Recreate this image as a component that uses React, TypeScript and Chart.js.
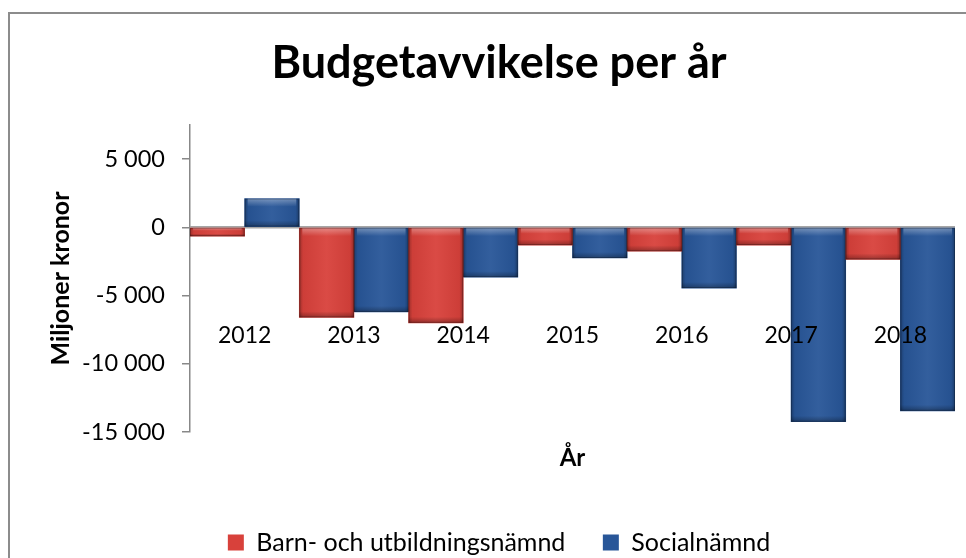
import React, { useEffect, useRef } from 'react';
import { Chart, registerables } from 'chart.js';
Chart.register(...registerables);

const years = ['2012', '2013', '2014', '2015', '2016', '2017', '2018'];
const barnValues = [-650, -6600, -7000, -1300, -1750, -1300, -2350];
const socialValues = [2100, -6200, -3650, -2250, -4450, -14250, -13450];
const yTickValues = [-15000, -10000, -5000, 0, 5000];
const seriesNames = ['Barn- och utbildningsnämnd', 'Socialnämnd'];
const titleText = 'Budgetavvikelse per år';
const yTitle = 'Miljoner kronor';
const xTitle = 'År';

const FONT = 'Lato, "Open Sans", sans-serif';
const RED = '#d8413b';
const BLUE = '#285698';

const fmt = (v: number) => {
  const s = String(Math.abs(v)).replace(/\B(?=(\d{3})+(?!\d))/g, ' ');
  return (v < 0 ? '-' : '') + s;
};

const decor = {
  id: 'decor',
  beforeDraw(chart: any) {
    const ctx = chart.ctx;
    ctx.save();
    ctx.fillStyle = '#ffffff';
    ctx.fillRect(0, 0, chart.width, chart.height);
    ctx.strokeStyle = '#8c8c8c';
    ctx.lineWidth = 2;
    ctx.strokeRect(9, 13, chart.width + 100, chart.height + 100);
    ctx.restore();
  },
  beforeDatasetsDraw(chart: any) {
    const ctx = chart.ctx;
    const ys = chart.scales.y;
    const area = chart.chartArea;
    const y0 = ys.getPixelForValue(0);
    ctx.save();
    ctx.strokeStyle = '#a6a6a6';
    ctx.lineWidth = 2.5;
    ctx.beginPath();
    ctx.moveTo(area.left, y0);
    ctx.lineTo(area.right, y0);
    ctx.stroke();
    ctx.restore();
  },
  afterDatasetsDraw(chart: any) {
    const ctx = chart.ctx;
    ctx.save();
    chart.data.datasets.forEach((_ds: any, di: number) => {
      const meta = chart.getDatasetMeta(di);
      meta.data.forEach((el: any) => {
        const { x, y, base, width } = el.getProps(['x', 'y', 'base', 'width'], true);
        const l = x - width / 2;
        const r = x + width / 2;
        const t = Math.min(y, base);
        const b = Math.max(y, base);
        const g = ctx.createLinearGradient(l, 0, r, 0);
        g.addColorStop(0, 'rgba(0,0,0,0.28)');
        g.addColorStop(0.07, 'rgba(0,0,0,0.05)');
        g.addColorStop(0.5, 'rgba(255,255,255,0.05)');
        g.addColorStop(0.93, 'rgba(0,0,0,0.05)');
        g.addColorStop(1, 'rgba(0,0,0,0.30)');
        ctx.fillStyle = g;
        ctx.fillRect(l, t, r - l, b - t);
        const hh = Math.min(8, (b - t) / 3);
        const g2 = ctx.createLinearGradient(0, t, 0, t + hh);
        g2.addColorStop(0, 'rgba(255,255,255,0.35)');
        g2.addColorStop(1, 'rgba(255,255,255,0)');
        ctx.fillStyle = g2;
        ctx.fillRect(l + 3, t, r - l - 6, hh);
        const bh = Math.min(6, (b - t) / 3);
        const g3 = ctx.createLinearGradient(0, b - bh, 0, b);
        g3.addColorStop(0, 'rgba(0,0,0,0)');
        g3.addColorStop(1, 'rgba(0,0,0,0.3)');
        ctx.fillStyle = g3;
        ctx.fillRect(l, b - bh, r - l, bh);
        ctx.strokeStyle = 'rgba(0,0,0,0.25)';
        ctx.lineWidth = 1;
        ctx.strokeRect(l + 0.5, t + 0.5, r - l - 1, b - t - 1);
      });
    });
    // category labels drawn through the x scale
    const xs = chart.scales.x;
    const ys = chart.scales.y;
    ctx.fillStyle = '#000';
    ctx.font = '23px ' + FONT;
    ctx.textAlign = 'center';
    ctx.textBaseline = 'middle';
    const ly = ys.getPixelForValue(0) + 108;
    years.forEach((yr, i) => {
      ctx.fillText(yr, xs.getPixelForValue(i), ly);
    });
    ctx.restore();
  },
};

export default function App() {
  const ref = useRef<HTMLCanvasElement>(null);
  useEffect(() => {
    const chart = new Chart(ref.current as HTMLCanvasElement, {
      type: 'bar',
      data: {
        labels: years,
        datasets: [
          { label: seriesNames[0], data: barnValues, backgroundColor: RED, borderWidth: 0, categoryPercentage: 1, barPercentage: 1 },
          { label: seriesNames[1], data: socialValues, backgroundColor: BLUE, borderWidth: 0, categoryPercentage: 1, barPercentage: 1 },
        ],
      },
      options: {
        responsive: false,
        animation: false,
        layout: { padding: 0 },
        plugins: {
          title: {
            display: true,
            text: titleText,
            color: '#000',
            font: { family: FONT, size: 45, weight: 'bold', lineHeight: 1.2 },
            padding: { top: 36.5, bottom: 34.5 },
          },
          legend: {
            position: 'bottom',
            labels: {
              font: { family: FONT, size: 25 },
              color: '#000',
              boxWidth: 16,
              boxHeight: 16,
              padding: 37.5,
            },
          },
          tooltip: { enabled: false },
        },
        scales: {
          x: {
            grid: { display: false },
            border: { display: false },
            ticks: { display: false },
            title: {
              display: true,
              text: xTitle,
              color: '#000',
              font: { family: FONT, size: 24, weight: 'bold', lineHeight: 1.2 },
              padding: { top: 0, bottom: 20 },
            },
            afterFit: (s: any) => { s.height = 60.5; },
          },
          y: {
            min: -15000,
            max: 7500,
            afterBuildTicks: (s: any) => { s.ticks = yTickValues.map((v) => ({ value: v })); },
            ticks: {
              stepSize: 5000,
              color: '#000',
              font: { family: FONT, size: 23.5 },
              padding: 17,
              callback: (v: any) => fmt(Number(v)),
            },
            grid: { drawOnChartArea: false, drawTicks: true, tickLength: 8, color: '#888', lineWidth: 1.5 },
            border: { display: true, color: '#888', width: 1.5 },
            title: {
              display: true,
              text: yTitle,
              color: '#000',
              font: { family: FONT, size: 25, weight: 'bold', lineHeight: 1.2 },
              padding: { top: 46, bottom: 0 },
            },
            afterFit: (s: any) => { s.width = 190; },
          },
          yR: {
            type: 'linear',
            position: 'right',
            display: true,
            grid: { display: false },
            border: { display: false },
            ticks: { display: false },
            afterFit: (s: any) => { s.width = 43; },
          },
        },
      } as any,
      plugins: [decor],
    });
    return () => chart.destroy();
  }, []);
  return (
    <div style={{ position: 'fixed', left: 0, top: 0, width: 966, height: 558, overflow: 'hidden', background: '#fff' }}>
      <canvas ref={ref} width={998} height={565} style={{ display: 'block', width: 998, height: 565 }} />
    </div>
  );
}
